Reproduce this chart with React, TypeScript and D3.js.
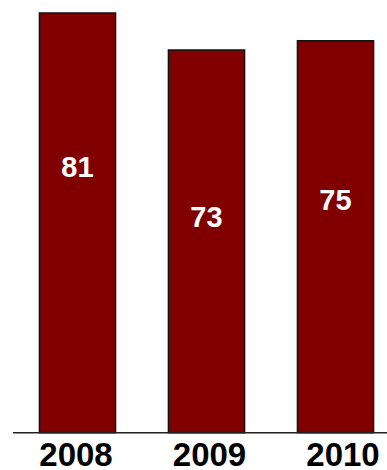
import React from "react";
import * as d3 from "d3";

const years = ["2008", "2009", "2010"];
const values = [81, 73, 75];
// where each value label sits, expressed in value units on the y scale
const labelAnchors = [45.5, 34.7, 38.4];

const W = 387;
const H = 470;

export default function App() {
  const x = d3
    .scaleBand<string>()
    .domain(years)
    .range([13, 400])
    .paddingInner(0.41)
    .paddingOuter(0.205);
  const y = d3.scaleLinear().domain([-9.7, 81]).range([432.7, 13]);
  const xLabel = d3.scalePoint<string>().domain(years).range([76, 343]);
  const base = y(-9.7);

  return (
    <svg
      width={W}
      height={H}
      style={{ position: "absolute", left: 0, top: 0, display: "block", background: "#fff" }}
      fontFamily="'Liberation Sans', Arial, sans-serif"
    >
      {years.map((yr, i) => (
        <rect
          key={yr}
          x={x(yr)!}
          y={y(values[i])}
          width={x.bandwidth()}
          height={base - y(values[i])}
          fill="#800000"
          stroke="#111"
          strokeWidth={1.5}
        />
      ))}
      <line x1={13} x2={W} y1={base} y2={base} stroke="#222" strokeWidth={1.5} />
      {years.map((yr, i) => (
        <text
          key={"v" + yr}
          x={x(yr)! + x.bandwidth() / 2}
          y={y(labelAnchors[i])}
          textAnchor="middle"
          fontSize={29}
          fontWeight="bold"
          fill="#fff"
        >
          {values[i]}
        </text>
      ))}
      {years.map((yr) => (
        <text
          key={"t" + yr}
          x={xLabel(yr)!}
          y={465.5}
          textAnchor="middle"
          fontSize={33}
          fontWeight="bold"
          fill="#000"
        >
          {yr}
        </text>
      ))}
    </svg>
  );
}
